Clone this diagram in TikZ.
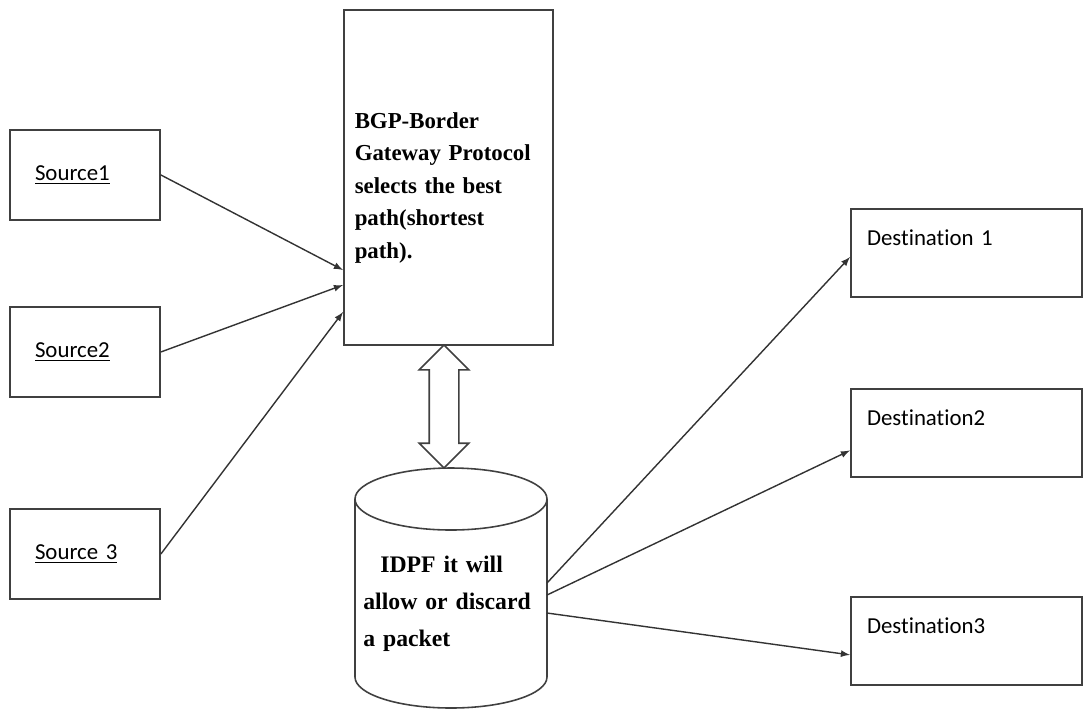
\documentclass[tikz,border=0pt]{standalone}
\usepackage{fontspec}
\setmainfont{Liberation Serif}
\newfontfamily\calfont[Ligatures=NoCommon]{Carlito}
\usetikzlibrary{arrows, calc, shapes, shapes.arrows, shapes.geometric, positioning}

\tikzstyle{source} = [rectangle, minimum width=3cm, minimum height=1.8cm, draw=black!75, line width=1.1pt, text width=2cm, align=left, font=\calfont\fontsize{13}{15}\selectfont]
\tikzstyle{bgpbox} = [rectangle, minimum width=4.18cm, minimum height=6.7cm, draw=black!75, line width=1.1pt, text width=3.75cm, text height=0.72cm, align=left, font=\bfseries\fontsize{13}{18.5}\selectfont]
\tikzstyle{cylline} = [draw=black!75, line width=0.9pt]
\tikzstyle{storetext} = [inner sep=0pt, text width=3.5cm, align=left, font=\bfseries\fontsize{13.5}{21}\selectfont]
\tikzstyle{dest} = [rectangle, minimum width=4.62cm, minimum height=1.76cm, draw=black!75, line width=1.1pt, text width=3.98cm, text depth=0.6cm, align=left, font=\calfont\fontsize{13}{15}\selectfont]
\tikzstyle{link} = [double arrow, shape border rotate=90, draw=black!75, line width=0.9pt, inner sep=0.28cm, double arrow head extend=0.2cm, minimum height=2.46cm]

\begin{document}
\begin{tikzpicture}[node distance=1.7cm]
	\useasboundingbox (0,0) rectangle (21.68,-14.22);
	\node[source] (src1) at (1.7,-3.5) {\underline{Source1}};
	\node[source, below=of src1] (src2) {\underline{Source2}};
	\node[source, below=2.2cm of src2] (src3) {\underline{Source 3}};
	
	\node[bgpbox] (bgp) at (8.97,-3.55) {BGP-Border\\Gateway Protocol\\selects the best\\path(shortest\\path).};
	\node[link] (updown) at (8.88,-8.13) {};
	
	% cylinder
	\draw[cylline] (9.02,-9.98) ellipse [x radius=1.92, y radius=0.62];
	\draw[cylline] (7.10,-9.98) -- (7.10,-13.54) arc [start angle=180, end angle=360, x radius=1.92, y radius=0.62] -- (10.94,-9.98);
	\node[storetext, anchor=north west] (idpf) at (7.26,-11.12) {\hspace*{0.34cm}IDPF it will\\allow or discard\\a packet};
	\coordinate (out1) at (10.94,-11.66);
	\coordinate (out2) at (10.94,-11.90);
	\coordinate (out3) at (10.94,-12.26);
	
	\node[dest] (dst1) at (19.33,-5.06) {Destination 1};
	\node[dest, below=1.8cm of dst1] (dst2) {Destination2};
	\node[dest, below=2.36cm of dst2] (dst3) {Destination3};
	
	%arrow
	\draw [-latex, line width=0.8pt, black!80] (src1.east) -- ([yshift=-1.85cm]bgp.west);
	\draw [-latex, line width=0.8pt, black!80] (src2.east) -- ([yshift=-2.15cm]bgp.west);
	\draw [-latex, line width=0.8pt, black!80] (src3.east) -- ([yshift=-2.69cm]bgp.west);
	
	\draw [-latex, line width=0.8pt, black!80] (out1) -- ([yshift=-0.08cm]dst1.west);
	\draw [-latex, line width=0.8pt, black!80] (out2) -- ([yshift=-0.35cm]dst2.west);
	\draw [-latex, line width=0.8pt, black!80] (out3) -- ([yshift=-0.28cm]dst3.west);
\end{tikzpicture}
\end{document}
